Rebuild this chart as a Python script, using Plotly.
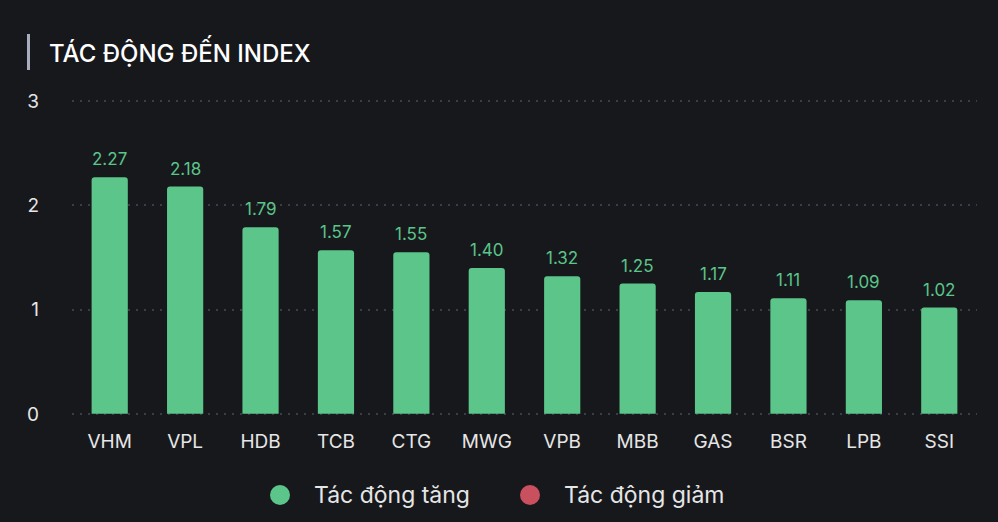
import plotly.graph_objects as go

categories = ["VHM", "VPL", "HDB", "TCB", "CTG", "MWG", "VPB", "MBB", "GAS", "BSR", "LPB", "SSI"]
values = [2.27, 2.18, 1.79, 1.57, 1.55, 1.40, 1.32, 1.25, 1.17, 1.11, 1.09, 1.02]
y_ticks = [0, 1, 2, 3]
legend_names = ["Tác động tăng", "Tác động giảm"]
title_text = "TÁC ĐỘNG ĐẾN INDEX"

GREEN = "#5bc58a"
RED = "#c9505e"
BG = "#17181c"
FONT = "Inter"

W, H = 998, 522
PAD = 0.03
L, R, T, B = 72, 21, 98, 105
PW, PH = W - L - R, H - T - B


def px(x):
    return (x - L) / PW


def py(y):
    return (H - B - y) / PH


fig = go.Figure()
fig.add_trace(go.Bar(
    x=categories, y=values,
    marker=dict(color=GREEN, line=dict(width=0)),
    cliponaxis=False,
    showlegend=False,
    hoverinfo="x+y",
))

annotations = []
for c, v in zip(categories, values):
    annotations.append(dict(
        x=c, y=v, xref="x", yref="y", text=f"{v:.2f}",
        showarrow=False, yanchor="bottom", yshift=6,
        font=dict(color=GREEN, size=17, family=FONT),
    ))

annotations.append(dict(
    text=title_text, xref="paper", yref="paper",
    x=px(47), y=py(52), xanchor="left", yanchor="middle", showarrow=False,
    font=dict(size=24, color="#ffffff", family=FONT, weight=500),
))

shapes = [dict(
    type="rect", xref="paper", yref="paper",
    x0=px(27), x1=px(30), y0=py(70), y1=py(34),
    fillcolor="#a9adbd", line=dict(width=0), layer="above",
)]

legend_x = [(280, 312), (530, 562)]
for name, col, (cx, tx) in zip(legend_names, [GREEN, RED], legend_x):
    shapes.append(dict(
        type="circle", xref="paper", yref="paper",
        x0=px(cx - 10), x1=px(cx + 10), y0=py(505), y1=py(485),
        fillcolor=col, line=dict(width=0), layer="above",
    ))
    annotations.append(dict(
        text=name, xref="paper", yref="paper",
        x=px(tx), y=py(495), xanchor="left", yanchor="middle", showarrow=False,
        font=dict(size=23, color="#e6e6e6", family=FONT),
    ))

fig.update_layout(
    width=W, height=H,
    paper_bgcolor=BG, plot_bgcolor=BG,
    margin=dict(l=L, r=R, t=T, b=B),
    bargap=0.52,
    barcornerradius=3,
    font=dict(family=FONT, color="#e6e6e6"),
    showlegend=False,
    xaxis=dict(
        showgrid=False, zeroline=False, showline=False, ticks="",
        tickfont=dict(size=19, color="#e6e6e6", family=FONT),
        ticklabelstandoff=11,
    ),
    yaxis=dict(
        range=[-PAD, 3 + PAD], tickvals=y_ticks, ticktext=[str(t) for t in y_ticks],
        showgrid=True, gridcolor="#3a3c4a", gridwidth=2, griddash="2px,6px",
        zeroline=False, showline=False, ticks="",
        tickfont=dict(size=19, color="#e6e6e6", family=FONT),
        ticklabelstandoff=32,
    ),
    annotations=annotations,
    shapes=shapes,
)

fig.write_html("out.html", config={"displayModeBar": False},
               post_script="document.body.style.margin='0';")
